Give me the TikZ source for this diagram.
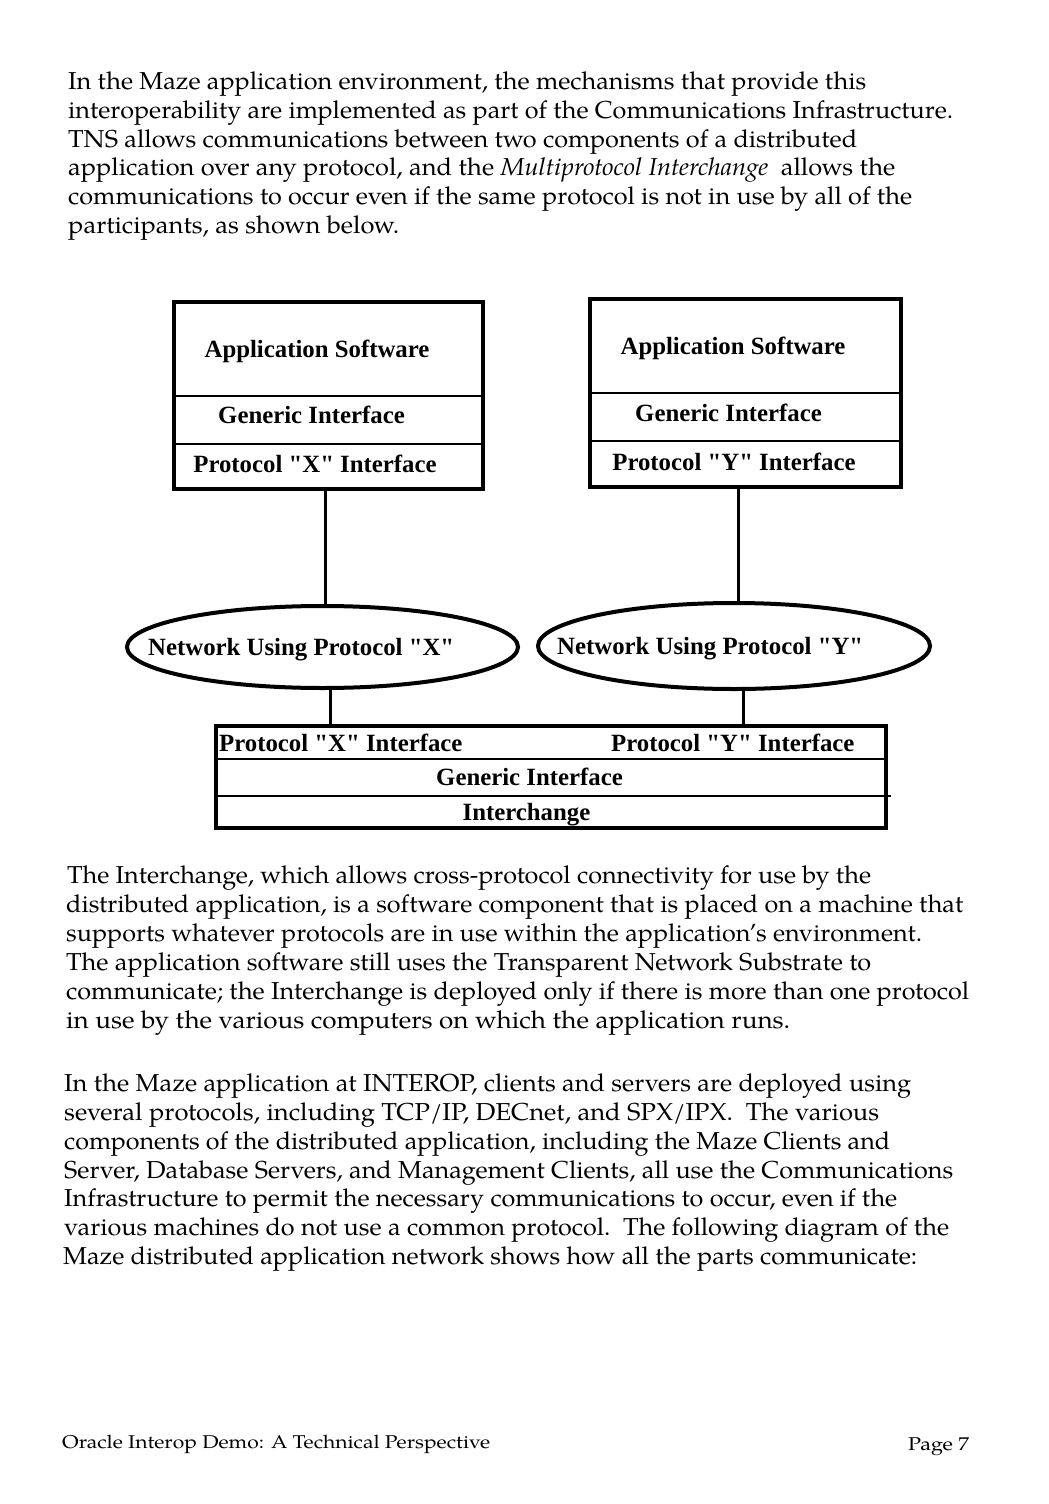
\documentclass[tikz,border=0pt]{standalone}
\usepackage{fontspec}
\usepackage{graphicx}
\usetikzlibrary{shapes.geometric}
\newfontfamily\diagfont{Liberation Serif}
\newfontfamily\bodyfont[Ligatures=TeX]{TeX Gyre Pagella}
\newcommand\bodyline[5]{\node[txt] (#1) at (#2,#3) {\resizebox{#4pt}{\height}{#5}};}
\begin{document}
\begin{tikzpicture}[x=1pt,y=-1pt,
  txt/.style={anchor=base west,inner sep=0pt,font=\bodyfont\fontsize{24.5}{30}\selectfont},
  foot/.style={anchor=base west,inner sep=0pt,font=\bodyfont\fontsize{18.5}{22}\selectfont},
  boxshape/.style={draw,line width=4pt,inner sep=0pt,rectangle},
  divider/.style={line width=2.6pt},
  conn/.style={line width=3pt},
  net/.style={ellipse,draw,line width=4pt,inner sep=0pt},
  lbl/.style={anchor=base,inner sep=0pt,font=\diagfont\bfseries\fontsize{24.8}{28}\selectfont},
  lblw/.style={anchor=base west,inner sep=0pt,font=\diagfont\bfseries\fontsize{24.8}{28}\selectfont}]
\useasboundingbox[fill=white] (0,0) rectangle (1049,1504);

% ---- paragraph 1
\bodyline{pa1}{68}{89}{798}{In the Maze application environment, the mechanisms that provide this}
\bodyline{pa2}{68}{118}{885}{interoperability are implemented as part of the Communications Infrastructure.}
\bodyline{pa3}{68}{147}{789}{TNS allows communications between two components of a distributed}
\bodyline{pa4}{68}{175}{827}{application over any protocol, and the \textit{Multiprotocol Interchange}\ \ allows the}
\bodyline{pa5}{68}{204}{844}{communications to occur even if the same protocol is not in use by all of the}
\bodyline{pa6}{68}{233}{331}{participants, as shown below.}

% ---- diagram: upper left stack
\node[boxshape,minimum width=309pt,minimum height=187pt] (boxL) at (328.5,395.5) {};
\draw[divider] (boxL.west |- 0,396) -- (boxL.east |- 0,396);
\draw[divider] (boxL.west |- 0,444) -- (boxL.east |- 0,444);
\node[lbl] (appL) at (317,357) {Application Software};
\node[lbl] (genL) at (311.5,423) {Generic Interface};
\node[lbl] (proL) at (315,472) {Protocol "X" Interface};

% ---- upper right stack
\node[boxshape,minimum width=311pt,minimum height=188pt] (boxR) at (745.5,393) {};
\draw[divider] (boxR.west |- 0,393) -- (boxR.east |- 0,393);
\draw[divider] (boxR.west |- 0,441) -- (boxR.east |- 0,441);
\node[lbl] (appR) at (733,354) {Application Software};
\node[lbl] (genR) at (728.5,421) {Generic Interface};
\node[lbl] (proR) at (734,470) {Protocol "Y" Interface};

% ---- networks
\node[net,minimum width=391pt,minimum height=82pt] (netX) at (322.5,647) {};
\node[lblw] (netXt) at (148,655) {Network Using Protocol "X"};
\node[net,minimum width=392pt,minimum height=86pt] (netY) at (734,646) {};
\node[lblw] (netYt) at (557,654) {Network Using Protocol "Y"};

% ---- interchange stack
\node[boxshape,line width=3.6pt,minimum width=670pt,minimum height=102pt] (boxB) at (551,777) {};
\draw[divider] (boxB.west |- 0,759) -- (boxB.east |- 0,759);
\draw[divider] (boxB.west |- 0,796) -- ([xshift=3pt]boxB.east |- 0,796);
\node[lblw] (proBX) at (219,751) {Protocol "X" Interface};
\node[lblw] (proBY) at (611,751) {Protocol "Y" Interface};
\node[lbl] (genB) at (529.5,785) {Generic Interface};
\node[lbl] (intB) at (526.5,820) {Interchange};

% ---- connectors
\draw[conn] ([xshift=-3.5pt]boxL.south) -- ([xshift=-3.5pt]boxL.south |- netX.north);
\draw[conn] ([xshift=-7.5pt]boxR.south) -- ([xshift=-7.5pt]boxR.south |- netY.north);
\draw[conn] ([xshift=7.5pt]netX.south) -- ([xshift=7.5pt]netX.south |- boxB.north);
\draw[conn] ([xshift=9pt]netY.south) -- ([xshift=9pt]netY.south |- boxB.north);

% ---- paragraph 2
\bodyline{pb1}{67}{883}{804}{The Interchange, which allows cross-protocol connectivity for use by the}
\bodyline{pb2}{66}{912}{897}{distributed application, is a software component that is placed on a machine that}
\bodyline{pb3}{66}{941}{856}{supports whatever protocols are in use within the application's environment.}
\bodyline{pb4}{66}{970}{805}{The application software still uses the Transparent Network Substrate to}
\bodyline{pb5}{66}{999}{903}{communicate; the Interchange is deployed only if there is more than one protocol}
\bodyline{pb6}{66}{1028}{724}{in use by the various computers on which the application runs.}

% ---- paragraph 3
\bodyline{pc1}{64}{1091}{847}{In the Maze application at INTEROP, clients and servers are deployed using}
\bodyline{pc2}{64}{1120}{815}{several protocols, including TCP/IP, DECnet, and SPX/IPX.\ \ The various}
\bodyline{pc3}{64}{1149}{826}{components of the distributed application, including the Maze Clients and}
\bodyline{pc4}{64}{1178}{889}{Server, Database Servers, and Management Clients, all use the Communications}
\bodyline{pc5}{64}{1206}{833}{Infrastructure to permit the necessary communications to occur, even if the}
\bodyline{pc6}{64}{1235}{885}{various machines do not use a common protocol.\ \ The following diagram of the}
\bodyline{pc7}{63}{1264}{854}{Maze distributed application network shows how all the parts communicate:}

% ---- footer
\node[foot] (footL) at (62,1448) {\resizebox{428pt}{\height}{Oracle Interop Demo: A Technical Perspective}};
\node[foot] (footR) at (908,1450) {\resizebox{61pt}{\height}{Page 7}};
\end{tikzpicture}
\end{document}
